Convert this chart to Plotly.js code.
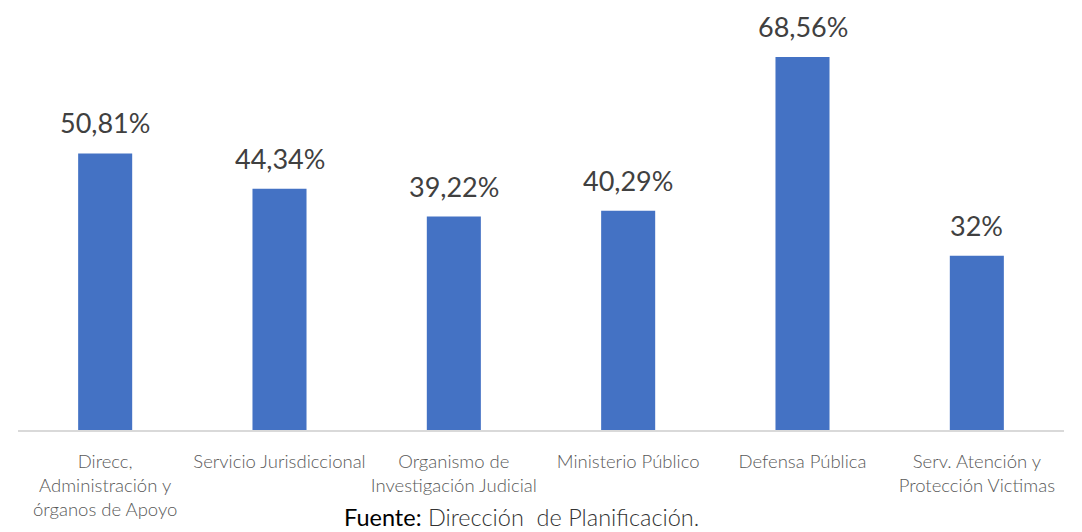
<!DOCTYPE html>
<html>
<head>
<meta charset="utf-8">
<script src="https://cdn.plot.ly/plotly-3.0.1.min.js"></script>
<style>html,body{margin:0;padding:0;background:#fff;}#chart{width:1082px;height:532px;}</style>
</head>
<body>
<div id="chart"></div>
<script>
var categories = ["Direcc,<br>Administración y<br>órganos de Apoyo", "Servicio Jurisdiccional", "Organismo de<br>Investigación Judicial", "Ministerio Público", "Defensa Pública", "Serv. Atención y<br>Protección Victimas"];
var values = [50.81, 44.34, 39.22, 40.29, 68.56, 32];
var valueLabels = ["50,81%", "44,34%", "39,22%", "40,29%", "68,56%", "32%"];
var sourceLabel = "<span style='color:#000;font-weight:400'>Fuente:</span> Dirección  de Planificación.";

var trace = {
  type: 'bar',
  x: categories,
  y: values,
  marker: {color: '#4472C4'},
  width: 0.31,
  hoverinfo: 'none'
};

var annotations = categories.map(function(c, i){
  return {x: c, y: values[i], xref: 'x', yref: 'y', text: valueLabels[i], showarrow: false,
    yanchor: 'bottom', yshift: 12, font: {family: 'Lato, sans-serif', size: 27, color: '#404040'}};
});
annotations.push({xref: 'paper', yref: 'paper', x: 0.4815, y: -0.2175, xanchor: 'center', yanchor: 'middle',
  text: sourceLabel, showarrow: false, font: {family: 'Lato, sans-serif', size: 23.5, color: '#333', weight: 300}});

var layout = {
  width: 1082, height: 532,
  margin: {l: 18, r: 18, t: 30, b: 102},
  paper_bgcolor: '#fff', plot_bgcolor: '#fff',
  showlegend: false,
  xaxis: {
    showline: true, linecolor: '#d9d9d9', linewidth: 2,
    ticks: '', tickfont: {family: 'Lato, sans-serif', size: 18.5, color: '#595959', weight: 300},
    ticklabelstandoff: 14, fixedrange: true
  },
  yaxis: {range: [0, 73.5], visible: false, showgrid: false, zeroline: false, fixedrange: true},
  annotations: annotations
};

Plotly.newPlot('chart', [trace], layout, {displayModeBar: false, staticPlot: true});
</script>
</body>
</html>
